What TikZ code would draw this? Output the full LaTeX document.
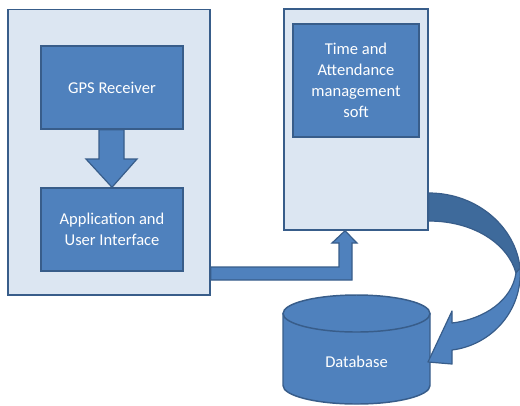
\documentclass[tikz,border=0pt]{standalone}
\usepackage{fontspec}
\setmainfont{Carlito}
\definecolor{obl}{HTML}{4F81BD}
\definecolor{oedge}{HTML}{385D8A}
\definecolor{olight}{HTML}{DCE6F2}
\definecolor{odark}{HTML}{3E6A9B}
\begin{document}
\begin{tikzpicture}[x=0.75pt,y=-0.75pt,
  outerbox/.style={draw=oedge,fill=olight,line width=1.1pt,inner sep=0pt},
  innerbox/.style={draw=oedge,fill=obl,line width=1.1pt,text=white,align=center,inner sep=0pt,
     font=\fontsize{12.4}{15.6}\selectfont},
  blockarrow/.style={draw=oedge,fill=obl,line width=0.9pt,line join=miter},
  lbl/.style={text=white,align=center,font=\fontsize{12.4}{15.6}\selectfont}]
\useasboundingbox (0,0) rectangle (520,405);
% boxes
\node[outerbox,minimum width=151.5pt,minimum height=214.1pt] (left) at (109,152.25) {};
\node[innerbox,minimum width=106.5pt,minimum height=62.25pt] (gps) at (112,87.5) {GPS Receiver};
\node[innerbox,minimum width=106.5pt,minimum height=62.25pt] (app) at (112,229.5) {Application and\\User Interface};
\node[outerbox,minimum width=108pt,minimum height=165.75pt] (right) at (356,119.5) {};
\node[innerbox,minimum width=94.5pt,minimum height=84.75pt] (soft) at (356,80.5) {Time and\\Attendance\\management\\soft};
% down arrow GPS -> App
\draw[blockarrow] (gps.south -| 99,0) -- (99,159) -- (86,159) -- (app.north) -- (137,159) -- (124,159) -- (gps.south -| 124,0) -- cycle;
% bent arrow App -> right box
\draw[blockarrow] (left.east |- 0,267) -- (339,267) -- (339,243) -- (332,243) -- (right.south -| 345,0) -- (357,243) -- (352,243) -- (352,280) -- (left.east |- 0,280) -- cycle;
% database cylinder
\coordinate (dbtop) at (356.5,313.5);
\fill[obl] (283,313.5) -- (283,385.5) arc[start angle=180,end angle=0,x radius=73.5,y radius=18.5] -- (430,313.5) -- cycle;
\draw[oedge,line width=1.1pt] (283,313.5) -- (283,385.5) arc[start angle=180,end angle=0,x radius=73.5,y radius=18.5] -- (430,313.5);
\draw[oedge,fill=obl,line width=1.1pt] (dbtop) ellipse[x radius=73.5,y radius=18.5];
\node[lbl] (db) at (356.5,362) {Database};
% curved arrow right box -> database
\coordinate (cstart) at (right.east |- 0,193);
\draw[draw=oedge,fill=odark,line width=0.9pt,line join=round] (cstart) .. controls (478,193) and (516,228) .. (520,268) -- (516,273) .. controls (508,244) and (474,221) .. (right.east |- 0,221) -- cycle;
\draw[blockarrow,line join=round] (520,268) .. controls (523,310) and (492,345) .. (452,350) -- (452,364) -- (db.east -| 428,0) -- (452,311) -- (452,323) .. controls (485,319) and (512,300) .. (516,273) -- cycle;
\end{tikzpicture}
\end{document}
